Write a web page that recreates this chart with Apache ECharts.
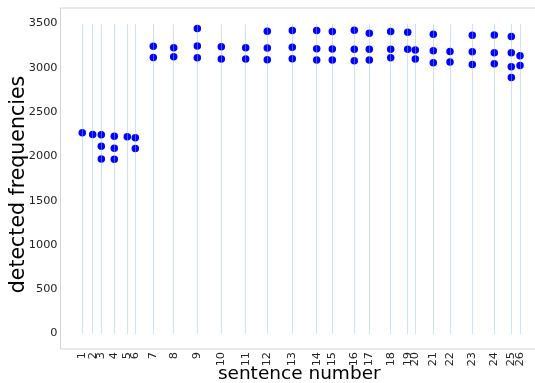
<!DOCTYPE html>
<html>
<head>
<meta charset="utf-8">
<script src="https://cdn.jsdelivr.net/npm/echarts@6/dist/echarts.min.js"></script>
<style>html,body{margin:0;padding:0;background:#fff}#c{width:535px;height:383px}</style>
</head>
<body>
<div id="c"></div>
<script>
// sentence start positions (x axis units)
const positions = [0, 10.4, 19, 32, 45, 53, 71, 91.4, 115, 139, 163.4, 185, 210, 234.4, 250, 272, 287, 308.4, 325.4, 333, 351, 367.7, 390, 412, 429, 437.7];
const sentenceLabels = ['1','2','3','4','5','6','7','8','9','10','11','12','13','14','15','16','17','18','19','20','21','22','23','24','25','26'];
// detected frequencies per sentence
const detected = [
  [2266],
  [2248],
  [2243, 2115, 1971],
  [2228, 2092, 1967],
  [2220],
  [2209, 2088],
  [3242, 3117],
  [3227, 3125],
  [3443, 3246, 3113],
  [3238, 3099],
  [3227, 3099],
  [3412, 3223, 3091],
  [3420, 3231, 3102],
  [3420, 3216, 3087],
  [3409, 3212, 3087],
  [3424, 3208, 3080],
  [3390, 3208, 3087],
  [3409, 3208, 3113],
  [3401, 3208],
  [3201, 3099],
  [3378, 3193, 3057],
  [3185, 3065],
  [3367, 3182, 3038],
  [3371, 3170, 3045],
  [3352, 3170, 3011, 2890],
  [3136, 3026]
];
const yTicks = [0, 500, 1000, 1500, 2000, 2500, 3000, 3500];
const lineTop = 3500;

const points = [];
detected.forEach((arr, i) => arr.forEach(v => points.push([positions[i], v])));
const vlines = positions.map(p => [{coord: [p, 0]}, {coord: [p, lineTop]}]);
// split tick labels over two axes sharing one scale so neighbouring labels may overlap
const oddPos = positions.filter((p, i) => i % 2 === 0);
const evenPos = positions.filter((p, i) => i % 2 === 1);
const labelOf = v => { const i = positions.indexOf(v); return i >= 0 ? sentenceLabels[i] : ''; };

const X_MIN = -21.8, X_MAX = 455.7;
const xLabelStyle = {rotate: 90, fontSize: 11.3, color: '#222', margin: 3, fontFamily: 'DejaVu Sans',
  hideOverlap: false, showMinLabel: true, showMaxLabel: true, formatter: labelOf};

const chart = echarts.init(document.getElementById('c'), null, {renderer: 'canvas'});
chart.setOption({
  animation: false,
  textStyle: {fontFamily: 'DejaVu Sans'},
  grid: {left: 60.5, right: -3, top: 8, bottom: 34, containLabel: false, outerBoundsMode: 'none',
         show: true, borderColor: '#d3d3d3', borderWidth: 1, backgroundColor: 'transparent'},
  xAxis: [{
    type: 'value', min: X_MIN, max: X_MAX, position: 'bottom',
    name: 'sentence number', nameLocation: 'middle', nameGap: 16, nameMoveOverlap: false,
    nameTextStyle: {fontSize: 18.5, color: '#000', fontFamily: 'DejaVu Sans', verticalAlign: 'top'},
    axisLine: {show: false}, axisTick: {show: false}, splitLine: {show: false},
    axisLabel: Object.assign({customValues: oddPos}, xLabelStyle)
  }, {
    type: 'value', min: X_MIN, max: X_MAX, position: 'bottom', offset: 0,
    axisLine: {show: false}, axisTick: {show: false}, splitLine: {show: false},
    axisLabel: Object.assign({customValues: evenPos}, xLabelStyle)
  }],
  yAxis: {
    type: 'value', min: -175, max: 3675,
    name: 'detected frequencies', nameLocation: 'middle', nameGap: 31, nameMoveOverlap: false,
    nameTextStyle: {fontSize: 20.5, color: '#000', fontFamily: 'DejaVu Sans', padding: [0, 12, 0, 0]},
    axisLine: {show: false}, axisTick: {show: false}, splitLine: {show: false},
    axisLabel: {customValues: yTicks, fontSize: 11.3, color: '#222', margin: 3, fontFamily: 'DejaVu Sans',
      hideOverlap: false, formatter: v => String(v)}
  },
  series: [{
    type: 'scatter', data: points, symbolSize: 7.5,
    itemStyle: {color: '#0000ff', opacity: 1},
    markLine: {
      silent: true, symbol: 'none', animation: false,
      lineStyle: {color: '#8fc1e3', type: [1, 1], width: 1, opacity: 0.9},
      label: {show: false}, emphasis: {disabled: true},
      data: vlines
    },
    z: 3
  }]
});
</script>
</body>
</html>
